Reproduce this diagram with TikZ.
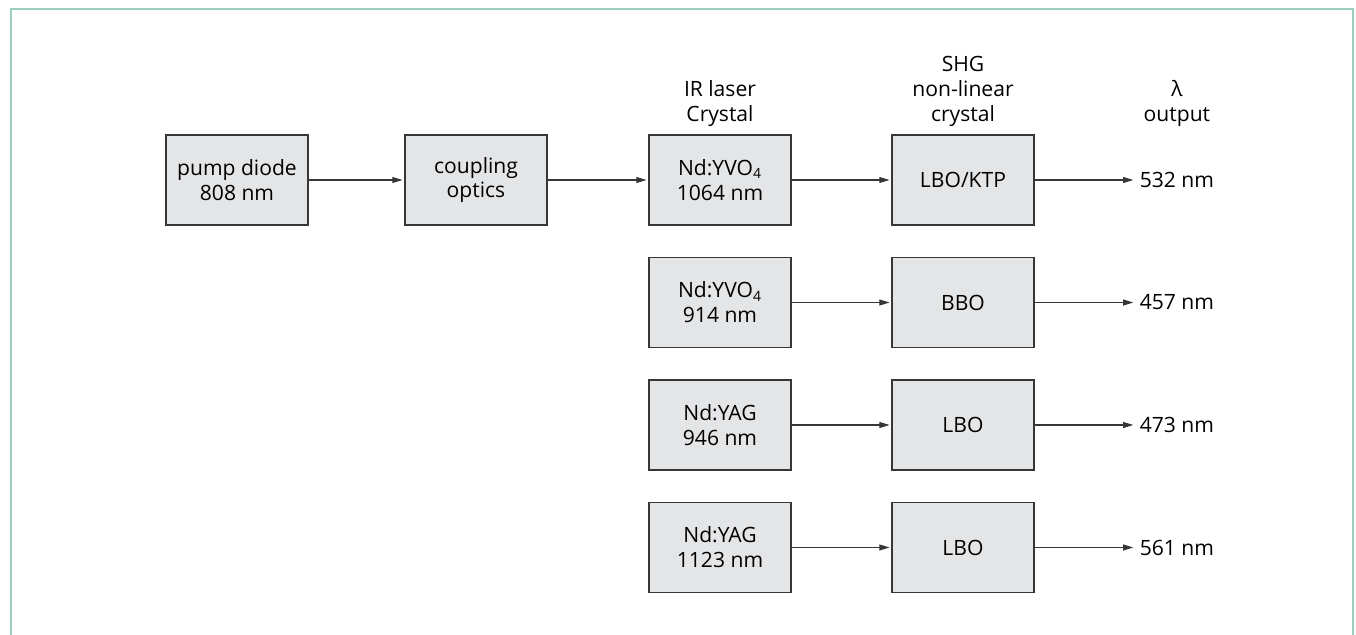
\documentclass[tikz,border=0pt]{standalone}
\usepackage{fontspec}
\setmainfont{Open Sans}
\usepackage[dvipsnames]{xcolor}
\usetikzlibrary{positioning,arrows.meta}
\definecolor{boxgray}{RGB}{228,229,231}
\definecolor{edgegray}{RGB}{55,55,55}
\definecolor{framegreen}{RGB}{158,206,190}

\begin{document}
\begin{tikzpicture}[->,>={Stealth[length=5.8pt,width=3.4pt,inset=0pt]},shorten >=1pt,auto,node distance=2.45cm,
    main node/.style={rectangle,draw=edgegray,line width=0.8pt,fill=boxgray,minimum width=2.84cm,minimum height=1.8cm,align=center,font=\fontsize{12}{14.2}\selectfont},
    head/.style={align=center,inner sep=1pt,font=\fontsize{12}{14.2}\selectfont},
    out label/.style={inner sep=1pt,font=\fontsize{12}{14.2}\selectfont}]
    \useasboundingbox (0,0) rectangle (27.12,-12.7);
    \draw[-,shorten >=0pt,framegreen,line width=1.6pt] (0.22,-13) -- (0.22,-0.18) -- (27.06,-0.18) -- (27.06,-13);

    \node[main node] (pump) at (4.74,-3.60) {pump diode\\808 nm};
    \node[main node] (optics) [right of=pump, node distance=4.78cm] {coupling\\optics};
    \node[main node] (ir1) [right of=optics, node distance=4.88cm] {Nd:YVO\textsubscript{4}\\1064 nm};
    \node[main node] (ir2) [below of=ir1] {Nd:YVO\textsubscript{4}\\914 nm};
    \node[main node] (ir3) [below of=ir2] {Nd:YAG\\946 nm};
    \node[main node] (ir4) [below of=ir3] {Nd:YAG\\1123 nm};
    \node[main node] (shg1) [right of=ir1, node distance=4.86cm] {LBO/KTP};
    \node[main node] (shg2) [below of=shg1] {BBO};
    \node[main node] (shg3) [below of=shg2] {LBO};
    \node[main node] (shg4) [below of=shg3] {LBO};
    \node[out label] (out1) [right=2.06cm of shg1] {532 nm};
    \node[out label] (out2) [right=2.06cm of shg2] {457 nm};
    \node[out label] (out3) [right=2.06cm of shg3] {473 nm};
    \node[out label] (out4) [right=2.06cm of shg4] {561 nm};

    \node[head] (irhead) [above=0.12cm of ir1] {IR laser\\Crystal};
    \node[head] (shghead) [above=0.12cm of shg1] {SHG\\non-linear\\crystal};
    \node[head,anchor=south] (lamhead) at ([yshift=0.12cm]out1 |- shg1.north) {λ\\output};

    \path[edgegray,line width=0.6pt]
        (pump) edge (optics)
        (optics) edge (ir1)
        (ir1) edge (shg1)
        (ir2) edge (shg2)
        (ir3) edge (shg3)
        (ir4) edge (shg4)
        (shg1) edge [shorten >=2.5pt] (out1)
        (shg2) edge [shorten >=2.5pt] (out2)
        (shg3) edge [shorten >=2.5pt] (out3)
        (shg4) edge [shorten >=2.5pt] (out4)
    ;
\end{tikzpicture}
\end{document}
